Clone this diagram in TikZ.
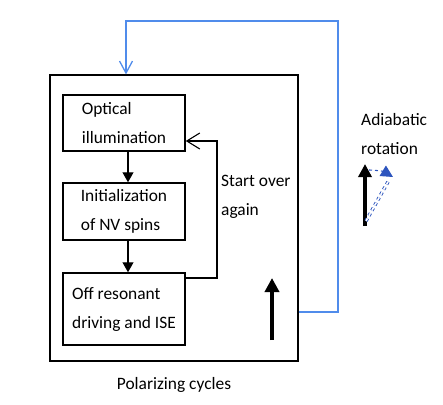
\documentclass[tikz,border=0pt]{standalone}
\usepackage{fontspec}
\setmainfont{Carlito}
\usetikzlibrary{arrows.meta,calc,positioning}
\definecolor{loopblue}{RGB}{80,140,235}
\definecolor{spinblue}{RGB}{45,85,190}
\tikzset{%
	block/.style    = {draw, rectangle, line width=1.5pt, minimum width=122pt, align=left, inner xsep=0pt}, % Step
	frame/.style    = {draw, rectangle, line width=1.2pt}, % Cycle box
	label/.style    = {align=left, inner sep=0pt}, % Text
	waypoint/.style = {coordinate}, % Corner
	arrow/.style    = {line width=1.2pt, -{Triangle[length=10pt,width=11pt]}},
	back/.style     = {line width=1.1pt, -{Straight Barb[length=13pt,width=16pt]}},
	loop/.style     = {loopblue, line width=1.3pt, -{Straight Barb[length=12pt,width=13pt]}},
	spin/.style     = {line width=4pt, -{Triangle[length=14pt,width=14pt]}},
}

\begin{document}
\begin{tikzpicture}[x=1pt, y=-1pt, every node/.style={font=\fontsize{17.4}{29}\selectfont}]
	\useasboundingbox (0,0) rectangle (443,404);
	\node[frame, minimum width=248pt, minimum height=286pt] (cycle) at (174,218) {};
	\node[block, minimum height=56pt] (light) at (124,123) {Optical\\illumination};
	\node[block, minimum height=57pt, below of=light, node distance=88.5pt] (init) {Initialization\\of NV spins};
	\node[block, minimum height=72pt, below of=init, node distance=97.5pt] (drive) {Off resonant\\driving and ISE};
	\draw[arrow] (light.south -| 128,0) -- (init.north -| 128,0);
	\draw[arrow] (init.south -| 128,0) -- (drive.north -| 128,0);
	% start over
	\coordinate (out) at (drive.east |- 0,278);
	\coordinate (in) at (light.east |- 0,141);
	\node[waypoint] (turn) at (217,278) {};
	\draw[back] (out) -- (turn) |- (in);
	\node[label, anchor=west] (again) at (221,197) {Start over\\again};
	\node[waypoint] (sb) at (272,340) {};
	\node[waypoint] (st) at (272,278) {};
	\draw[spin] (sb) -- (st);
	\node[below of=cycle, node distance=167pt] (title) {Polarizing cycles};
	% adiabatic rotation
	\coordinate (exit) at (cycle.east |- 0,312);
	\coordinate (entry) at (cycle.north -| 126,0);
	\node[waypoint] (c1) at (338,312) {};
	\node[waypoint] (c2) at (338,21) {};
	\draw[loop] (exit) -- (c1) -- (c2) -| (entry);
	\node[label, anchor=west] (rot) at (361,134) {Adiabatic\\rotation};
	\node[waypoint] (ab) at (365,226) {};
	\node[waypoint] (at) at (365,164) {};
	\node[waypoint] (bb) at (366,221) {};
	\node[waypoint] (bt) at (389,180) {};
	\node[waypoint] (bh) at (393,177) {};
	\draw[spin, line width=4pt, -{Triangle[length=13pt,width=13pt]}] (ab) -- (at);
	\draw[spinblue, dashed, double, double distance=1.6pt, line width=0.9pt] (bb) -- (bt);
	\draw[spinblue, dashed, line width=1.1pt, -{Triangle[length=12pt,width=12pt]}] (369,170) to[bend left=15] (bh);
\end{tikzpicture}
\end{document}
